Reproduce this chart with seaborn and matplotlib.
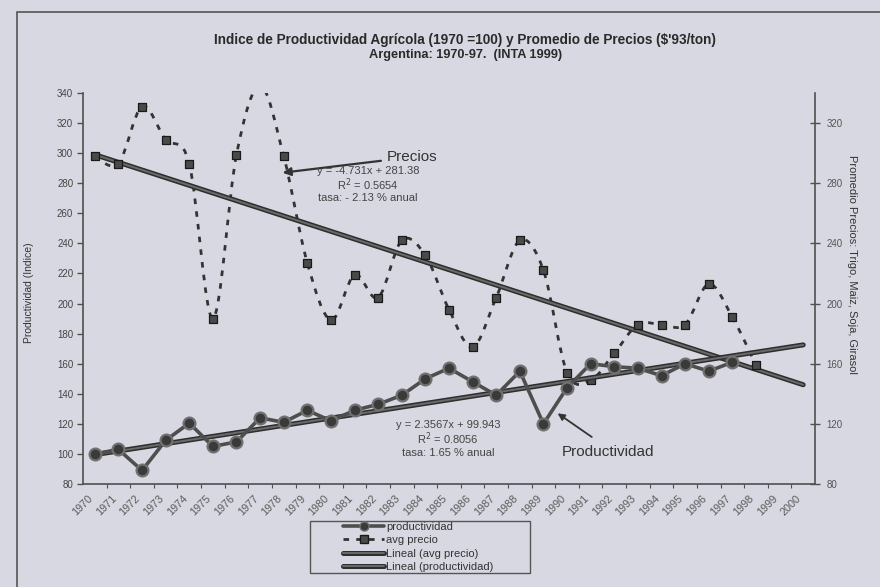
import numpy as np
import pandas as pd
import matplotlib
matplotlib.use("Agg")
import matplotlib.pyplot as plt
import seaborn as sns
from matplotlib.path import Path
from matplotlib.patches import PathPatch, Rectangle
from matplotlib.lines import Line2D
import matplotlib.patheffects as pe
import matplotlib.transforms as mtrans

# ---------------- data ----------------
year_labels = [str(y) for y in range(1970, 2001)]
prod_years = list(range(1970, 1998))
productividad = [100, 103, 89, 109, 120.5, 105, 108, 124, 121, 129, 122, 129, 133, 139,
                 150, 157, 148, 139, 155, 120, 144, 160, 158, 157, 152, 160, 155, 161]
price_years = list(range(1970, 1999))
avg_precio = [298, 293, 331, 309, 293, 190, 299, 345, 298, 227, 189, 219, 204, 242, 232,
              196, 171, 204, 242, 222, 154, 149, 167, 186, 186, 186, 213, 191, 159]
trend_years = [1970, 2000]
trend_precio = [299, 146]
trend_prod = [99.5, 172.5]

BG = "#d8d8e2"

sns.set_theme(style="white")
plt.rcParams["font.family"] = ["Liberation Sans", "DejaVu Sans"]

fig = plt.figure(figsize=(8.8, 5.87), dpi=100, facecolor=BG)
ax = fig.add_axes([83/880, 1-484/587, (815-83)/880, (484-93)/587])
ax.set_facecolor(BG)
ax2 = ax.twinx()

# frame of the printed chart
fig.patches.append(Rectangle((17/880, -0.1), 1.2, 1-12/587+0.1, transform=fig.transFigure,
                             fill=False, edgecolor="#555555", lw=1.2))

def xi(years):
    return [y - 1970 for y in years]

df_prod = pd.DataFrame({"x": xi(prod_years), "y": productividad})
df_price = pd.DataFrame({"x": xi(price_years), "y": avg_precio})
df_tp = pd.DataFrame({"x": xi(trend_years), "y": trend_precio})
df_tq = pd.DataFrame({"x": xi(trend_years), "y": trend_prod})

# smoothed dashed price curve (Excel-like smoothing) built from the data
px = np.array(df_price["x"], float)
py = np.array(df_price["y"], float)
verts = [(px[0], py[0])]
codes = [Path.MOVETO]
n = len(px)
for i in range(n - 1):
    p0 = np.array([px[max(i-1, 0)], py[max(i-1, 0)]])
    p1 = np.array([px[i], py[i]])
    p2 = np.array([px[i+1], py[i+1]])
    p3 = np.array([px[min(i+2, n-1)], py[min(i+2, n-1)]])
    c1 = p1 + (p2 - p0) / 6
    c2 = p2 - (p3 - p1) / 6
    verts += [tuple(c1), tuple(c2), tuple(p2)]
    codes += [Path.CURVE4] * 3
DASH = (0, (2.0, 2.6))
ax2.add_patch(PathPatch(Path(verts, codes), fill=False, edgecolor="#333333",
                        lw=2.0, linestyle=DASH, zorder=3))
sns.scatterplot(data=df_price, x="x", y="y", ax=ax2, marker="s", s=40,
                color="#4a4a4a", edgecolor="#1a1a1a", linewidth=0.9, zorder=5, legend=False)

# trend lines
stroke = [pe.Stroke(linewidth=3.6, foreground="#2e2e2e"), pe.Normal()]
sns.lineplot(data=df_tp, x="x", y="y", ax=ax2, color="#6a6a6a", lw=1.4, zorder=4,
             path_effects=stroke, legend=False)
sns.lineplot(data=df_tq, x="x", y="y", ax=ax, color="#6a6a6a", lw=1.4, zorder=4,
             path_effects=stroke, legend=False)

# productivity line
sns.lineplot(data=df_prod, x="x", y="y", ax=ax, color="#4e4e4e", lw=2.6, marker="o",
             markersize=8.5, markerfacecolor="#3a3a3a", markeredgecolor="#707070",
             markeredgewidth=1.6, zorder=6, legend=False)

for a in (ax, ax2):
    a.set_xlim(-0.5, 30.5)
    a.set_ylim(80, 340)
    a.set_xlabel("")
    a.set_ylabel("")
ax.set_zorder(ax2.get_zorder() + 1)
ax.patch.set_visible(False)
ax2.set_facecolor(BG)

# spines
for a in (ax, ax2):
    a.spines["top"].set_visible(False)
ax.spines["right"].set_visible(False)
ax2.spines["left"].set_visible(False)
ax2.spines["bottom"].set_visible(False)
for s in ("left", "bottom"):
    ax.spines[s].set_color("#505050")
    ax.spines[s].set_linewidth(1.2)
ax2.spines["right"].set_color("#505050")
ax2.spines["right"].set_linewidth(1.2)

# ticks
ax.set_yticks(np.arange(80, 341, 20))
ax.tick_params(axis="y", direction="out", length=4, width=1, color="#505050",
               labelsize=7, labelcolor="#444444", pad=3, left=True)
ax2.set_yticks(np.arange(80, 321, 40))
ax2.tick_params(axis="y", direction="inout", length=7, width=1, color="#505050",
                labelsize=7, labelcolor="#555555", pad=5, right=True)
ax.set_xticks(range(len(year_labels)))
ax.set_xticklabels(year_labels, rotation=45, ha="right", rotation_mode="anchor",
                   fontsize=7.8, color="#5a5a5a")
ax.tick_params(axis="x", which="major", length=0, pad=6.5, bottom=True, labelbottom=True)
ax.set_xticks(np.arange(0.5, 30.5, 1), minor=True)
ax.tick_params(axis="x", which="minor", direction="out", length=3, width=0.8,
               color="#505050", bottom=True)

# axis labels
fig.text(29/880, 1-293/587, "Productividad (Indice)", rotation=90, ha="center",
         va="center", fontsize=7.5, color="#333333")
fig.text(852/880, 1-264/587, "Promedio Precios: Trigo, Maiz, Soja, Girasol",
         rotation=-90, ha="center", va="center", fontsize=8, color="#333333")

# title
fig.text(465/880, 1-40/587,
         "Indice de Productividad Agrícola (1970 =100) y Promedio de Precios ($'93/ton)",
         ha="center", va="center", fontsize=9.8, fontweight="bold", color="#2a2a2a")
fig.text(466/880, 1-55/587, "Argentina: 1970-97.  (INTA 1999)", ha="center",
         va="center", fontsize=9.2, fontweight="bold", color="#2a2a2a")

# annotations
ax.annotate("Precios", xy=(7.95, 287), xycoords="data",
            xytext=(387, 587-157), textcoords="figure pixels", ha="left", va="center",
            fontsize=11, color="#333333",
            arrowprops=dict(arrowstyle="-|>", color="#333333", lw=1.6,
                            mutation_scale=12, shrinkA=2, shrinkB=0))
for txt, yy in [("y = -4.731x + 281.38", 171), ("R$^2$ = 0.5654", 185),
                ("tasa: - 2.13 % anual", 198)]:
    fig.text(368/880, 1-yy/587, txt, ha="center", va="center", fontsize=8, color="#444444")

ax.annotate("Productividad", xy=(19.6, 127), xycoords="data",
            xytext=(608, 587-452), textcoords="figure pixels", ha="center", va="center",
            fontsize=11, color="#333333",
            arrowprops=dict(arrowstyle="-|>", color="#333333", lw=1.3,
                            mutation_scale=10, shrinkA=6, shrinkB=0,
                            relpos=(0.45, 1.0)))
for txt, yy in [("y = 2.3567x + 99.943", 425), ("R$^2$ = 0.8056", 439),
                ("tasa: 1.65 % anual", 453)]:
    fig.text(448/880, 1-yy/587, txt, ha="center", va="center", fontsize=8, color="#444444")

# legend
handles = [
    Line2D([], [], color="#4e4e4e", lw=2.6, marker="o", markersize=6.5,
           markerfacecolor="#3a3a3a", markeredgecolor="#707070"),
    Line2D([], [], color="#333333", lw=2, linestyle=DASH, marker="s",
           markersize=6, markerfacecolor="#4a4a4a", markeredgecolor="#1a1a1a"),
    Line2D([], [], color="#6a6a6a", lw=1.4, path_effects=stroke),
    Line2D([], [], color="#6a6a6a", lw=1.4, path_effects=stroke),
]
labels = ["productividad", "avg precio", "Lineal (avg precio)", "Lineal (productividad)"]
fig.patches.append(Rectangle((310/880, 1-573/587), 220/880, 52/587,
                             transform=fig.transFigure, facecolor=BG,
                             edgecolor="#555555", lw=1.0, zorder=1))
leg = fig.legend(handles, labels, loc="upper left",
                 bbox_to_anchor=(343/880, 1-522/587), fontsize=8, frameon=False,
                 handlelength=3.7, handletextpad=0.2, labelspacing=0.3,
                 borderpad=0.0, borderaxespad=0)
for t in leg.get_texts():
    t.set_color("#333333")

# shift rotated year labels slightly left (as in the printed chart)
fig.canvas.draw()
shift = mtrans.ScaledTranslation(-7/100, 0, fig.dpi_scale_trans)
for tick in ax.xaxis.get_major_ticks():
    tick.label1.set_transform(tick.label1.get_transform() + shift)

fig.savefig("out.png", dpi=100, facecolor=BG)
